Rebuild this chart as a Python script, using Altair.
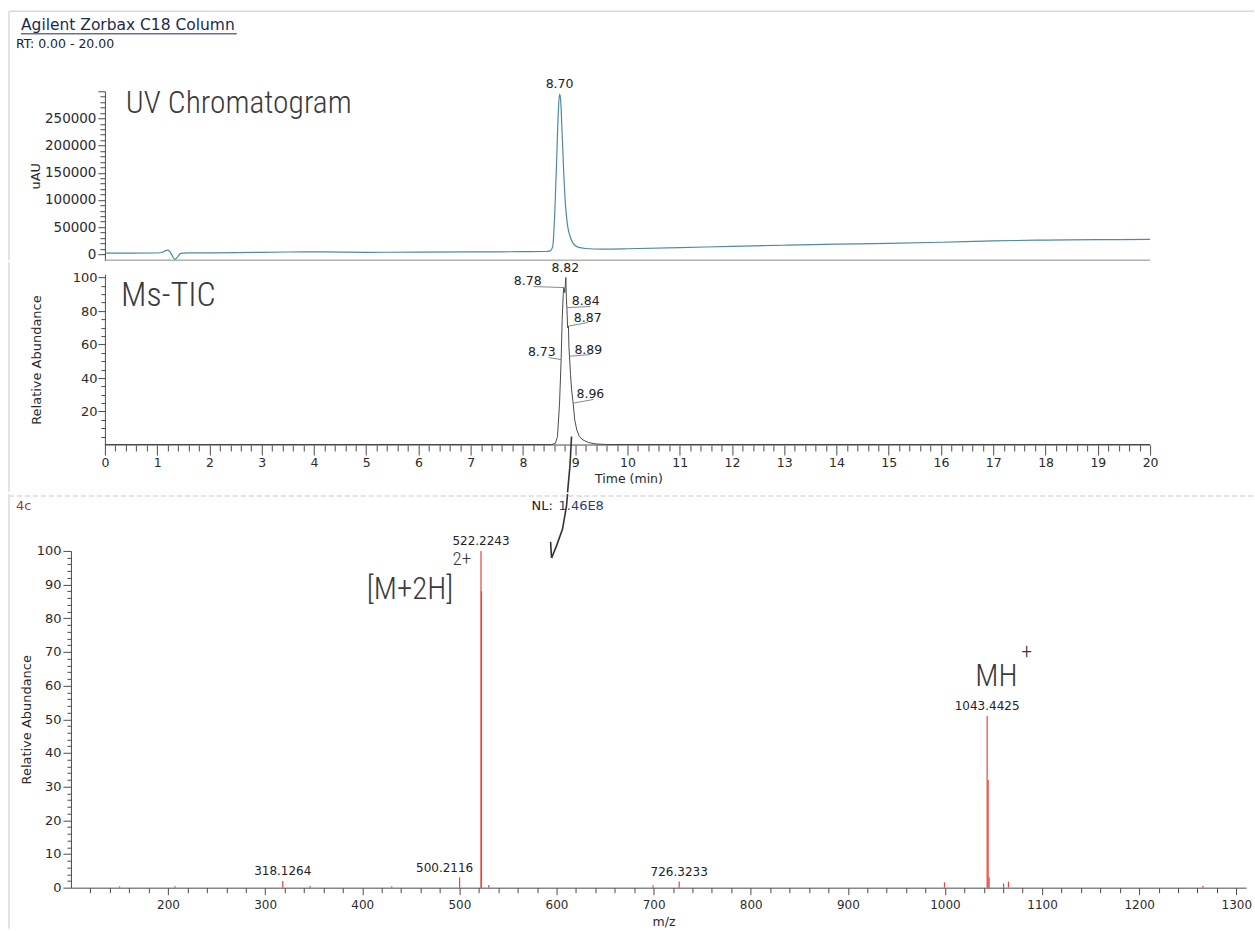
import altair as alt
import pandas as pd

# ---------------------------------------------------------------- data
# UV absorbance (uAU) against retention time (min)
uv_time = [0.0, 0.5, 1.0, 1.1, 1.16, 1.2, 1.25, 1.29, 1.34, 1.39,
           1.45, 1.6, 2.5, 3.5, 4.2, 5.0, 6.0, 7.0, 8.0, 8.45,
           8.52, 8.57, 8.61, 8.65, 8.68, 8.70, 8.72, 8.75, 8.78, 8.81,
           8.85, 8.90, 8.96, 9.05, 9.2, 9.5, 10.0, 11.0, 12.0, 13.0,
           14.0, 15.0, 16.0, 17.0, 18.0, 19.0, 20.0]
uv_signal = [2000, 2000, 2200, 3500, 6500, 7500, 4000, -3000, -9500, -5000,
             1500, 2300, 2800, 4000, 4200, 3500, 3800, 4200, 4600, 5000,
             6000, 15000, 80000, 190000, 270000, 295000, 285000, 220000, 150000, 95000,
             55000, 33000, 20000, 13000, 10500, 9500, 10000, 12000, 14500, 16500,
             18500, 20000, 22000, 24500, 26000, 26800, 27200]
uv_apex_rt = 8.70
uv_apex_signal = 295000

# MS total ion current, relative abundance (%)
tic_time = [0.0, 8.55, 8.62, 8.66, 8.70, 8.73, 8.75, 8.77, 8.78, 8.80,
            8.82, 8.83, 8.84, 8.855, 8.87, 8.88, 8.89, 8.91, 8.93, 8.96,
            8.99, 9.03, 9.08, 9.15, 9.25, 9.4, 9.6, 20.0]
tic_rel = [0.3, 0.3, 1, 5, 25, 51, 75, 90, 94, 91,
           100, 88, 82, 70, 71, 58, 53, 42, 33, 25,
           15, 9, 5, 3, 1.5, 0.6, 0.3, 0.3]

# retention times printed on the TIC peak and the abundance they mark
tic_peak_rt = [8.82, 8.78, 8.84, 8.87, 8.73, 8.89, 8.96]
tic_peak_rel = [100, 94, 82, 71, 51, 53, 25]
# label text anchor and leader end, in (time, abundance)
tic_text_rt = [8.81, 8.09, 9.20, 9.24, 8.36, 9.25, 9.29]
tic_text_rel = [105.9, 98.2, 85.7, 76.1, 55.8, 57.0, 30.2]
tic_lead_rt = [8.82, 8.20, 9.29, 9.24, 8.49, 9.29, 9.35]
tic_lead_rel = [100, 94.6, 82.7, 73.1, 52.2, 54.0, 27.2]

# mass spectrum centroids (m/z, relative abundance %)
ms_mz = [150.1, 207.1, 318.1264, 346.2, 430.3, 500.2116, 522.2243, 522.7257,
         530.2, 699.4, 726.3233, 999.5, 1043.4425, 1044.4458, 1045.45,
         1060.4, 1065.4, 1265.6]
ms_rel = [0.4, 0.4, 2.0, 0.5, 0.4, 3.0, 100, 88,
          0.8, 0.7, 1.8, 1.6, 51, 32, 3.0,
          1.2, 1.8, 0.5]
ms_labelled = [318.1264, 500.2116, 522.2243, 726.3233, 1043.4425]
ms_label_shift = [0, -15.4, 0, 0, 0]   # m/z nudge of the printed label

# hand-drawn arrow from the TIC peak down to the spectrum
arrow_tic_rt = [8.929, 8.901, 8.853]
arrow_tic_rel = [5.1, -11.6, -28.3]
arrow_ms_mz = [611.4, 610.3, 606.2, 600.0, 594.9, 593.9, 594.9, 609.3]
arrow_ms_rel = [116.9, 113.4, 106.5, 101.5, 97.9, 102.7, 97.9, 99.7]
arrow_ms_part = ["shaft"] * 5 + ["barb1", "barb1", "barb2"]

FONT = "DejaVu Sans"
HAND = "Liberation Sans Narrow, Roboto Condensed, DejaVu Sans Condensed, sans-serif"
INK = "#3a3a3a"
TITLE_BLUE = "#1c2a4a"
AXIS_GREY = "#4a4a4a"
FRAME = "#dadada"


def tick_len(test, major, minor):
    return {"condition": {"test": test, "value": major}, "value": minor}


one_row = pd.DataFrame({"k": [0]})


def frame_piece(x1, x2, y1, y2, dash=None):
    """Light printout frame segment, placed in panel pixels."""
    props = dict(color=FRAME, strokeWidth=1.5)
    if dash:
        props["strokeDash"] = dash
    return alt.Chart(one_row).mark_rule(**props).encode(
        x=alt.value(x1), x2=alt.value(x2), y=alt.value(y1), y2=alt.value(y2))


# ---------------------------------------------------------------- UV panel
# time axis starts a little left of 0 so that all three panels share one left edge
rt_scale = alt.Scale(domain=[-0.65, 20], nice=False, zero=False)
uv_scale = alt.Scale(domain=[-11000, 300000], nice=False, zero=False)

uv_df = pd.DataFrame({"time": uv_time, "signal": uv_signal})
uv_vals = list(range(0, 300001, 10000))

uv_line = alt.Chart(uv_df).mark_line(
    color="#4f8aa0", strokeWidth=1.2, interpolate="monotone"
).encode(
    x=alt.X("time:Q", scale=rt_scale, axis=None),
    y=alt.Y("signal:Q", scale=uv_scale,
            axis=alt.Axis(values=uv_vals, tickCount=len(uv_vals),
                          labelExpr="datum.value % 50000 === 0 && datum.value < 300000 ? datum.label : ''",
                          format="d", labelOverlap=False, offset=-34,
                          tickSize=tick_len("datum.value % 50000 === 0", 7, 5),
                          labelPadding=2, labelFontSize=13.5,
                          title="uAU", titleFontSize=13, titleX=-62,
                          minExtent=94)),
)

uv_base = alt.Chart(pd.DataFrame({"time": [0], "time_end": [20], "signal": [-11000]})).mark_rule(
    color="#8a8a8a", strokeWidth=1
).encode(x=alt.X("time:Q", scale=rt_scale), x2="time_end:Q", y=alt.Y("signal:Q", scale=uv_scale))

uv_apex = alt.Chart(pd.DataFrame({"time": [uv_apex_rt], "signal": [uv_apex_signal],
                                  "label": [f"{uv_apex_rt:.2f}"]})).mark_text(
    font=FONT, fontSize=12.5, baseline="bottom", dy=-3, color="#222"
).encode(x=alt.X("time:Q", scale=rt_scale), y=alt.Y("signal:Q", scale=uv_scale), text="label:N")

uv_note = alt.Chart(pd.DataFrame({"time": [0.40], "signal": [259500],
                                  "label": ["UV Chromatogram"]})).mark_text(
    font=HAND, fontSize=31.5, fontWeight=300, align="left", baseline="alphabetic", color=INK
).encode(x=alt.X("time:Q", scale=rt_scale), y=alt.Y("signal:Q", scale=uv_scale), text="label:N")

page_title = alt.Chart(one_row).mark_text(
    font=FONT, fontSize=15.5, align="left", baseline="alphabetic", color=TITLE_BLUE
).encode(x=alt.value(-50), y=alt.value(-61), text=alt.value("Agilent Zorbax C18 Column"))

title_underline = alt.Chart(one_row).mark_rule(color=TITLE_BLUE, strokeWidth=1).encode(
    x=alt.value(-50), x2=alt.value(166), y=alt.value(-57.5))

rt_range = alt.Chart(one_row).mark_text(
    font=FONT, fontSize=12.5, align="left", baseline="alphabetic", color="#222"
).encode(x=alt.value(-55), y=alt.value(-43), text=alt.value("RT: 0.00 - 20.00"))

uv_panel = alt.layer(
    frame_piece(-62, 1184, -80, -80), frame_piece(-62, -62, -80, 169),
    uv_line, uv_base, uv_apex, uv_note, page_title, title_underline, rt_range,
).properties(width=1080, height=169)

# ---------------------------------------------------------------- TIC panel
tic_scale = alt.Scale(domain=[0, 102], nice=False, zero=False)
tic_df = pd.DataFrame({"time": tic_time, "rel": tic_rel})
rt_vals = [round(i * 0.2, 1) for i in range(101)]
tic_vals = list(range(5, 101, 5))

tic_line = alt.Chart(tic_df).mark_line(color="#4a4a4a", strokeWidth=1).encode(
    x=alt.X("time:Q", scale=rt_scale,
            axis=alt.Axis(values=rt_vals, tickCount=len(rt_vals), tickMinStep=0.1, domain=False,
                          labelExpr="datum.value % 1 === 0 ? format(datum.value, 'd') : ''",
                          labelOverlap=False, labelFlush=False,
                          tickSize=tick_len("datum.value % 1 === 0", 10, 6),
                          labelPadding=2, labelFontSize=12.5,
                          title="Time (min)", titleFontSize=12.5, titlePadding=3,
                          titleX=558)),
    y=alt.Y("rel:Q", scale=tic_scale,
            axis=alt.Axis(values=tic_vals, tickCount=len(tic_vals), offset=-34,
                          labelExpr="datum.value % 20 === 0 ? datum.label : ''",
                          format="d", labelOverlap=False,
                          tickSize=tick_len("datum.value % 20 === 0", 7, 4),
                          labelPadding=1, labelFontSize=13,
                          title="Relative Abundance", titleFontSize=13, titleX=-61,
                          minExtent=94)),
)

tic_base = alt.Chart(pd.DataFrame({"time": [0], "time_end": [20], "rel": [0]})).mark_rule(
    color=AXIS_GREY, strokeWidth=1
).encode(x=alt.X("time:Q", scale=rt_scale), x2="time_end:Q", y=alt.Y("rel:Q", scale=tic_scale))

tic_lab_df = pd.DataFrame({
    "time": tic_peak_rt, "rel": tic_peak_rel,
    "lead_t": tic_lead_rt, "lead_r": tic_lead_rel,
    "text_t": tic_text_rt, "text_r": tic_text_rel,
    "label": [f"{v:.2f}" for v in tic_peak_rt],
})

tic_leaders = alt.Chart(tic_lab_df).mark_rule(color="#6a6a6a", strokeWidth=0.8).encode(
    x=alt.X("time:Q", scale=rt_scale), y=alt.Y("rel:Q", scale=tic_scale),
    x2="lead_t:Q", y2="lead_r:Q")

tic_labels = alt.Chart(tic_lab_df).mark_text(
    font=FONT, fontSize=12.5, baseline="middle", color="#222"
).encode(x=alt.X("text_t:Q", scale=rt_scale), y=alt.Y("text_r:Q", scale=tic_scale), text="label:N")

tic_note = alt.Chart(pd.DataFrame({"time": [0.31], "rel": [82.7], "label": ["Ms-TIC"]})).mark_text(
    font=HAND, fontSize=34, fontWeight=300, align="left", baseline="alphabetic", color=INK
).encode(x=alt.X("time:Q", scale=rt_scale), y=alt.Y("rel:Q", scale=tic_scale), text="label:N")

tic_arrow = alt.Chart(pd.DataFrame({"time": arrow_tic_rt, "rel": arrow_tic_rel,
                                    "i": list(range(len(arrow_tic_rt)))})).mark_line(
    color="#333", strokeWidth=1.6
).encode(x=alt.X("time:Q", scale=rt_scale), y=alt.Y("rel:Q", scale=tic_scale), order="i:Q")

tic_panel = alt.layer(
    frame_piece(-62, -62, -12, 218),
    tic_line, tic_base, tic_leaders, tic_labels, tic_note, tic_arrow,
).properties(width=1080, height=171)

# ---------------------------------------------------------------- mass spectrum
mz_scale = alt.Scale(domain=[100, 1310], nice=False, zero=False)
ab_scale = alt.Scale(domain=[0, 100], nice=False, zero=False)

ms_df = pd.DataFrame({"mz": ms_mz, "rel": ms_rel, "base": [0] * len(ms_mz)})
mz_vals = list(range(120, 1301, 20))
ab_vals = list(range(0, 101, 2))

ms_sticks = alt.Chart(ms_df).mark_rule(color="#e2483e", strokeWidth=1.2).encode(
    x=alt.X("mz:Q", scale=mz_scale,
            axis=alt.Axis(values=mz_vals, tickCount=len(mz_vals),
                          labelExpr="datum.value % 100 === 0 ? datum.label : ''",
                          format="d", labelOverlap=False, labelFlush=False,
                          tickSize=tick_len("datum.value % 100 === 0", 7, 5),
                          labelPadding=5, labelFontSize=12,
                          title="m/z", titleFontSize=12.5, titlePadding=5, titleX=593)),
    y=alt.Y("rel:Q", scale=ab_scale,
            axis=alt.Axis(values=ab_vals, tickCount=len(ab_vals),
                          labelExpr="datum.value % 10 === 0 ? datum.label : ''",
                          format="d", labelOverlap=False,
                          tickSize=tick_len("datum.value % 10 === 0", 8, 4),
                          labelPadding=2, labelFontSize=13,
                          title="Relative Abundance", titleFontSize=13, titleX=-37,
                          minExtent=60)),
    y2="base:Q",
)

lab_rows = [(mz, rel) for mz, rel in zip(ms_mz, ms_rel) if mz in ms_labelled]
ms_lab_df = pd.DataFrame({
    "mz": [m for m, _ in lab_rows],
    "rel": [r for _, r in lab_rows],
    "label_mz": [m + s for (m, _), s in zip(lab_rows, ms_label_shift)],
    "label": [f"{m:.4f}" for m, _ in lab_rows],
})

ms_labels = alt.Chart(ms_lab_df).mark_text(
    font=FONT, fontSize=12, baseline="bottom", dy=-3, color="#222"
).encode(x=alt.X("label_mz:Q", scale=mz_scale), y=alt.Y("rel:Q", scale=ab_scale), text="label:N")

ms_notes_df = pd.DataFrame({
    "mz": [404.6, 493.0, 1031.2, 1078.5],
    "rel": [85.8, 95.8, 60.0, 68.0],
    "label": ["[M+2H]", "2+", "MH", "+"],
    "size": [31, 19, 31, 22],
})
ms_notes = alt.Chart(ms_notes_df).mark_text(
    font=HAND, fontWeight=300, align="left", baseline="alphabetic", color=INK
).encode(x=alt.X("mz:Q", scale=mz_scale), y=alt.Y("rel:Q", scale=ab_scale), text="label:N",
         size=alt.Size("size:Q", scale=None, legend=None))

scan_info_df = pd.DataFrame({
    "mz": [43.4, 574.3, 602.1],
    "rel": [113.4, 113.4, 113.4],
    "label": ["4c", "NL:", "1.46E8"],
    "colour": ["#a33a2e", "#222222", "#1f3f78"],
})
scan_info = alt.Chart(scan_info_df).mark_text(
    font=FONT, fontSize=13, align="left", baseline="middle"
).encode(x=alt.X("mz:Q", scale=mz_scale), y=alt.Y("rel:Q", scale=ab_scale), text="label:N",
         color=alt.Color("colour:N", scale=None, legend=None))

ms_arrow = alt.Chart(pd.DataFrame({"mz": arrow_ms_mz, "rel": arrow_ms_rel, "part": arrow_ms_part,
                                   "i": list(range(len(arrow_ms_mz)))})).mark_line(
    color="#333", strokeWidth=1.6
).encode(x=alt.X("mz:Q", scale=mz_scale), y=alt.Y("rel:Q", scale=ab_scale),
         detail="part:N", order="i:Q")

ms_panel = alt.layer(
    frame_piece(-62, -62, -57, 378), frame_piece(-62, 1184, -55, -55, dash=[5, 3]),
    ms_sticks, ms_labels, ms_notes, scan_info, ms_arrow,
).properties(width=1176, height=337)

# ---------------------------------------------------------------- assemble
chromatograms = alt.vconcat(uv_panel, tic_panel, spacing=-1)

chart = alt.vconcat(chromatograms, ms_panel, spacing=-6).properties(
    padding={"left": 8, "top": 10, "right": 0, "bottom": 0},
    background="white",
).configure_view(stroke=None).configure_axis(
    grid=False, labelFont=FONT, titleFont=FONT, titleFontWeight="normal",
    domainColor=AXIS_GREY, tickColor=AXIS_GREY, labelColor="#2a2a2a", titleColor="#2a2a2a",
)

chart.save("out.html", embed_options={"renderer": "svg", "actions": False})
